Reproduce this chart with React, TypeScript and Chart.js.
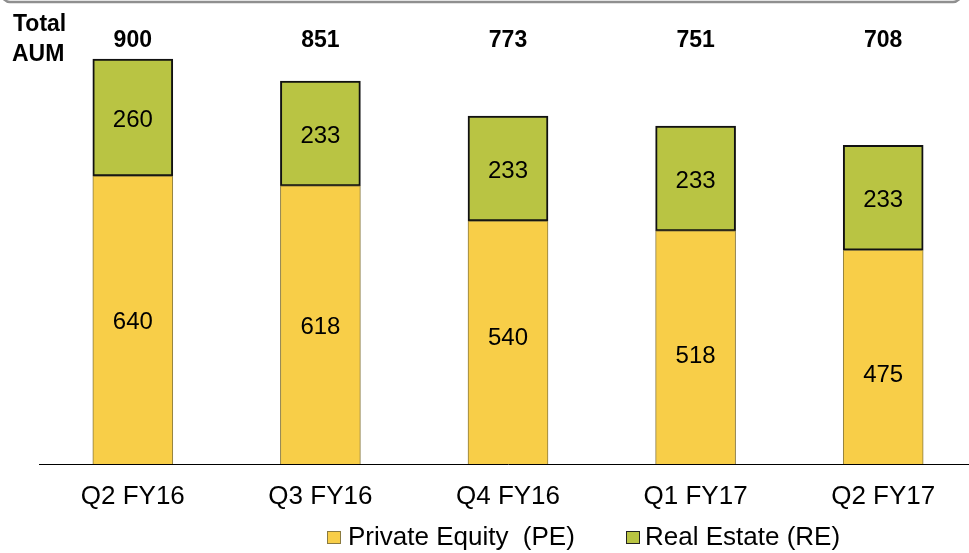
import React, { useEffect, useRef } from "react";
import { Chart, registerables } from "chart.js";

Chart.register(...registerables);

const categories = ["Q2 FY16", "Q3 FY16", "Q4 FY16", "Q1 FY17", "Q2 FY17"];
const privateEquity = [640, 618, 540, 518, 475];
const realEstate = [260, 233, 233, 233, 233];
const totals = [900, 851, 773, 751, 708];
const legendLabels = ["Private Equity  (PE)", "Real Estate (RE)"];
const titleLines = ["Total", "AUM"];

const FONT = "'Liberation Sans', Arial, sans-serif";
const PE_COLOR = "#F8CE48";
const PE_BORDER = "#8a7a40";
const RE_COLOR = "#B9C443";
const RE_BORDER = "#111111";

// small vertical nudges (px) of the in-bar labels, as placed in the original slide
const labelNudges: number[][] = [
  [0, 0, -6.5, 6.5, 16],
  [0.5, 0.5, 0.5, 0.5, 0.5],
];

const decorPlugin = {
  id: "decor",
  afterDatasetsDraw(chart: any) {
    const ctx = chart.ctx;
    ctx.save();
    // top frame remnant
    ctx.strokeStyle = "#8f8f8f";
    ctx.lineWidth = 2.5;
    ctx.beginPath();
    (ctx as any).roundRect(2, -30, 959, 32, 8);
    ctx.stroke();

    // segment value labels
    ctx.fillStyle = "#000";
    ctx.textAlign = "center";
    ctx.textBaseline = "alphabetic";
    ctx.font = `24px ${FONT}`;
    chart.data.datasets.forEach((ds: any, di: number) => {
      const meta = chart.getDatasetMeta(di);
      meta.data.forEach((el: any, i: number) => {
        const { x, y, base } = el.getProps(["x", "y", "base"], true);
        const cy = (y + base) / 2 + (labelNudges[di]?.[i] ?? 0);
        ctx.fillText(String(ds.data[i]), x, cy + 8.6);
      });
    });

    // totals
    ctx.font = `bold 23px ${FONT}`;
    const xs = chart.scales.x;
    totals.forEach((t, i) => {
      ctx.fillText(String(t), xs.getPixelForValue(i), 47);
    });

    // title
    ctx.textAlign = "left";
    ctx.fillText(titleLines[0], 13, 31);
    ctx.fillText(titleLines[1], 12, 61);

    // legend
    const items = [
      { label: legendLabels[0], fill: PE_COLOR, stroke: "#8a7a40", sx: 327, tx: 348 },
      { label: legendLabels[1], fill: RE_COLOR, stroke: "#222", sx: 626, tx: 645 },
    ];
    ctx.font = `26px ${FONT}`;
    items.forEach((it) => {
      ctx.fillStyle = it.fill;
      ctx.fillRect(it.sx, 531, 14, 13);
      ctx.strokeStyle = it.stroke;
      ctx.lineWidth = 1;
      ctx.strokeRect(it.sx + 0.5, 531.5, 13, 12);
      ctx.fillStyle = "#000";
      ctx.fillText(it.label, it.tx, 545);
    });
    ctx.restore();
  },
};

export default function App() {
  const canvasRef = useRef<HTMLCanvasElement | null>(null);

  useEffect(() => {
    const canvas = canvasRef.current;
    if (!canvas) return;
    const chart = new Chart(canvas, {
      type: "bar",
      data: {
        labels: categories,
        datasets: [
          {
            label: legendLabels[0],
            data: privateEquity,
            backgroundColor: PE_COLOR,
            borderColor: PE_BORDER,
            borderWidth: 1,
            barThickness: 80,
          },
          {
            label: legendLabels[1],
            data: realEstate,
            backgroundColor: RE_COLOR,
            borderColor: RE_BORDER,
            borderWidth: 2,
            borderSkipped: false,
            barThickness: 80,
          },
        ],
      },
      options: {
        responsive: false,
        animation: false,
        layout: { padding: { left: 39, right: 0, top: 14, bottom: 0 } },
        plugins: {
          legend: { display: false },
          tooltip: { enabled: false },
          title: { display: false },
        },
        scales: {
          x: {
            stacked: true,
            grid: { display: false, drawTicks: false },
            border: { display: true, color: "#000", width: 1 },
            ticks: {
              color: "#000",
              font: { family: FONT, size: 26 },
              padding: 17,
            },
            afterFit: (scale: any) => {
              scale.height = 89;
            },
          },
          y: {
            stacked: true,
            display: false,
            min: 0,
            max: 1000,
          },
        },
      },
      plugins: [decorPlugin],
    });
    return () => chart.destroy();
  }, []);

  return (
    <div
      style={{
        position: "fixed",
        left: 0,
        top: 0,
        width: 969,
        height: 553,
        overflow: "hidden",
        background: "#fff",
      }}
    >
      <canvas ref={canvasRef} width={977} height={553} style={{ width: 977, height: 553, display: "block" }} />
    </div>
  );
}
